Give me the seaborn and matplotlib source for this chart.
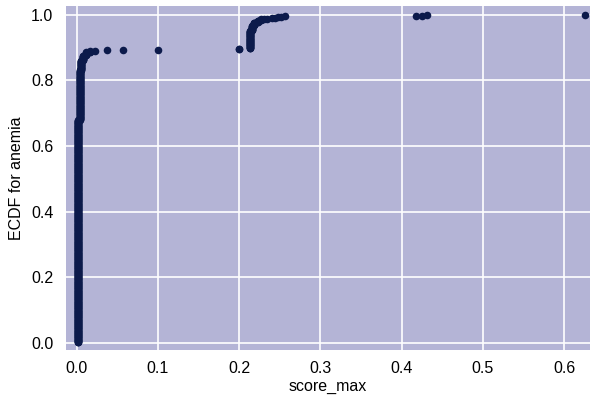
import numpy as np
import pandas as pd
import matplotlib
matplotlib.use("Agg")
import matplotlib.pyplot as plt
import seaborn as sns

# Distinct score_max values and how many samples share each
score_values = [0.0015, 0.0040, 0.0055, 0.0080, 0.0120, 0.0160, 0.0225,
                0.0370, 0.0570, 0.0998, 0.2000, 0.2130, 0.2160, 0.2190,
                0.2230, 0.2270, 0.2310, 0.2350, 0.2400, 0.2440, 0.2480,
                0.2520, 0.2560, 0.4180, 0.4250, 0.4310, 0.6260]
score_counts = [545, 122, 24, 12, 8, 3, 1,
                1, 1, 1, 2, 44, 12, 8,
                5, 3, 1, 1, 1, 1, 1,
                1, 1, 1, 1, 1, 1]

x_ticks = [0.0, 0.1, 0.2, 0.3, 0.4, 0.5, 0.6]
y_ticks = [0.0, 0.2, 0.4, 0.6, 0.8, 1.0]
x_label = "score_max"
y_label = "ECDF for anemia"

scores = np.sort(np.repeat(score_values, score_counts))
ecdf = np.arange(1, len(scores) + 1) / len(scores)
df = pd.DataFrame({x_label: scores, y_label: ecdf})

sns.set_style("darkgrid", {"axes.facecolor": "#b4b4d6", "grid.color": "white"})
plt.rcParams["font.family"] = ["Liberation Sans", "DejaVu Sans"]
plt.rcParams["grid.linewidth"] = 1.2

fig = plt.figure(figsize=(5.91, 3.99), dpi=100)
ax = fig.add_axes([66 / 591, 49 / 399, 524 / 591, 344 / 399])
sns.scatterplot(data=df, x=x_label, y=y_label, color="#0c1a4b", s=30,
                linewidth=0, ax=ax)

ax.set_xlim(-0.013, 0.632)
ax.set_ylim(-0.022, 1.027)
ax.set_xticks(x_ticks)
ax.set_yticks(y_ticks)
ax.set_xticklabels([f"{t:.1f}" for t in x_ticks])
ax.set_yticklabels([f"{t:.1f}" for t in y_ticks])
ax.tick_params(axis="both", labelsize=11.5, colors="black", length=0)
ax.tick_params(axis="x", pad=8)
ax.tick_params(axis="y", pad=9)
ax.set_xlabel(x_label, fontsize=11.5, color="black", labelpad=2)
ax.set_ylabel(y_label, fontsize=11.5, color="black", labelpad=5)
for s in ax.spines.values():
    s.set_visible(False)

fig.savefig("out.png", dpi=100)
